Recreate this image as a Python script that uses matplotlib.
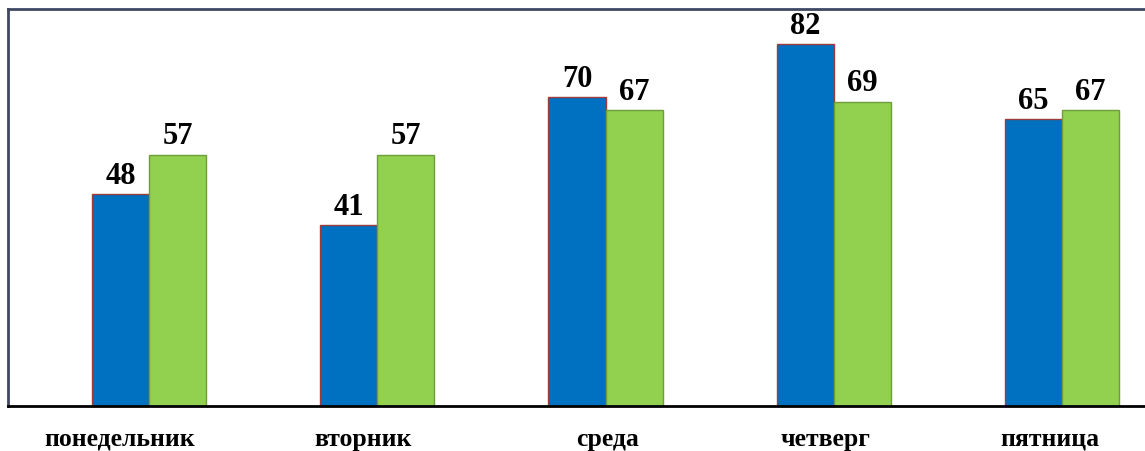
import matplotlib.pyplot as plt
import matplotlib.transforms as mtransforms
import numpy as np

# days of the week and the two series
days = ['понедельник', 'вторник', 'среда', 'четверг', 'пятница']
series_blue = [48, 41, 70, 82, 65]
series_green = [57, 57, 67, 69, 67]

plt.rcParams['font.family'] = ['Liberation Serif', 'DejaVu Serif']

fig = plt.figure(figsize=(11.45, 4.52), dpi=100)
ax = fig.add_axes([8 / 1145, 45 / 452, 1195 / 1145, 397 / 452])

x = np.arange(len(days))
w = 0.25
b1 = ax.bar(x - w / 2, series_blue, w, color='#0070C0', edgecolor='#9E3B3B', linewidth=1)
b2 = ax.bar(x + w / 2, series_green, w, color='#92D050', edgecolor='#6E9E3A', linewidth=1)

for bars, vals in ((b1, series_blue), (b2, series_green)):
    for r, v in zip(bars, vals):
        ax.annotate(str(v), (r.get_x() + r.get_width() / 2, v), xytext=(0, 3),
                    textcoords='offset points', ha='center', va='bottom',
                    fontsize=22, fontweight='bold', color='black')

ax.set_xlim(-0.62, 4.62)
ax.set_ylim(0, 90)
ax.set_xticks(x)
ax.set_xticklabels(days, fontsize=18.5, fontweight='bold')
ax.tick_params(axis='x', length=0, pad=15)
ax.set_yticks([])

# the category labels in the original sit a little left of their groups
label_shift = [-30, -14, 2, -8, -12]
for lab, dx in zip(ax.get_xticklabels(), label_shift):
    lab.set_transform(lab.get_transform() +
                      mtransforms.ScaledTranslation(dx / 100, 0, fig.dpi_scale_trans))

for s in ('left', 'top', 'right'):
    ax.spines[s].set_color('#3F4763')
    ax.spines[s].set_linewidth(2)
ax.spines['bottom'].set_color('black')
ax.spines['bottom'].set_linewidth(2)

fig.savefig('out.png', dpi=100)
